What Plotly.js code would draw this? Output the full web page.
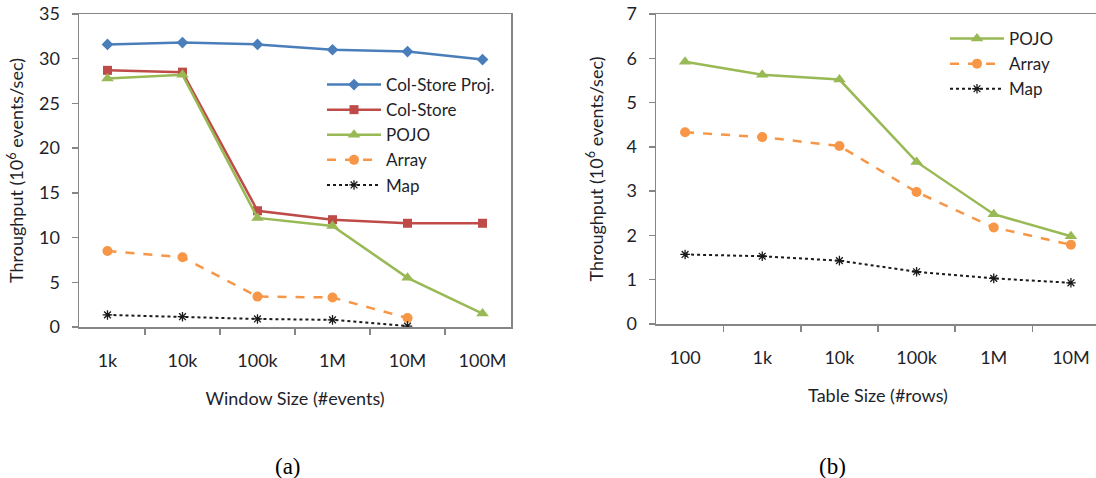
<!DOCTYPE html>
<html><head><meta charset="utf-8">
<script src="https://cdn.plot.ly/plotly-3.0.1.min.js"></script>
<style>html,body{margin:0;padding:0;overflow:hidden;background:#fff}#c{width:1100px;height:478px}</style>
</head><body><div id="c"></div>
<script>
const windowSizes = ["1k","10k","100k","1M","10M","100M"];
const colStoreProj = [31.6, 31.8, 31.6, 31.0, 30.8, 29.9];
const colStore = [28.7, 28.5, 13.0, 12.0, 11.6, 11.6];
const pojoA = [27.8, 28.2, 12.2, 11.3, 5.5, 1.5];
const arrayA = [8.5, 7.8, 3.4, 3.3, 1.0, null];
const mapA = [1.35, 1.15, 0.9, 0.8, 0.1, null];

const tableSizes = ["100","1k","10k","100k","1M","10M"];
const pojoB = [5.92, 5.63, 5.52, 3.66, 2.48, 1.98];
const arrayB = [4.33, 4.22, 4.02, 2.98, 2.18, 1.79];
const mapB = [1.57, 1.53, 1.43, 1.18, 1.03, 0.93];

const W = 1100, H = 478;
const cBlue = "#4A7EBB", cRed = "#BE4B48", cGreen = "#98B954", cOrange = "#F79646", cBlack = "#1a1a1a";
const font = "Lato, 'Open Sans', sans-serif";
const tickColor = "#1f1f2a";
const FS = 18;
const LFS = 17;

function tr(x, y, name, color, dash, symbol, msize, xa, ya, legend) {
  return {
    x: x, y: y, name: name, type: "scatter", mode: "lines+markers",
    xaxis: xa, yaxis: ya, legend: legend,
    line: {color: color, width: dash === "dot" ? 2 : 2.5, dash: dash},
    marker: {symbol: symbol, size: msize, color: color, line: {color: color, width: symbol.indexOf("asterisk") === 0 ? 1.3 : 0}},
    connectgaps: false
  };
}

const traces = [
  tr(windowSizes, colStoreProj, "Col-Store Proj.", cBlue, "solid", "diamond", 9, "x", "y", "legend"),
  tr(windowSizes, colStore, "Col-Store", cRed, "solid", "square", 9, "x", "y", "legend"),
  tr(windowSizes, pojoA, "POJO", cGreen, "solid", "triangle-up", 11, "x", "y", "legend"),
  tr(windowSizes, arrayA, "Array", cOrange, "dash", "circle", 10, "x", "y", "legend"),
  tr(windowSizes, mapA, "Map", cBlack, "dot", "asterisk-open", 8, "x", "y", "legend"),
  tr(tableSizes, pojoB, "POJO", cGreen, "solid", "triangle-up", 11, "x2", "y2", "legend2"),
  tr(tableSizes, arrayB, "Array", cOrange, "dash", "circle", 10, "x2", "y2", "legend2"),
  tr(tableSizes, mapB, "Map", cBlack, "dot", "asterisk-open", 8, "x2", "y2", "legend2")
];

const axisLine = "#868686";
function xaxisCfg(domain, title, anchor) {
  return {
    domain: domain, anchor: anchor, type: "category",
    showline: true, linecolor: axisLine, linewidth: 1.5, mirror: true,
    showgrid: false, zeroline: false,
    ticks: "outside", ticklen: 6, tickcolor: axisLine, tickwidth: 1.5, tickson: "boundaries",
    ticklabelstandoff: 17,
    tickfont: {family: font, size: FS, color: tickColor},
    title: {text: title, font: {family: font, size: FS, color: tickColor}, standoff: 22},
    fixedrange: true
  };
}
function yaxisCfg(domain, range, dtick, anchor, standoff) {
  return {
    domain: domain, anchor: anchor, range: range, dtick: dtick,
    showline: true, linecolor: axisLine, linewidth: 1.5, mirror: true,
    showgrid: false, zeroline: false,
    ticks: "outside", ticklen: 6, tickcolor: axisLine, tickwidth: 1.5,
    ticklabelstandoff: 8,
    tickfont: {family: font, size: FS, color: tickColor},
    title: {text: "Throughput (10<sup>6</sup> events/sec)", font: {family: font, size: FS, color: tickColor}, standoff: standoff},
    fixedrange: true
  };
}

const layout = {
  width: W, height: H,
  margin: {l: 0, r: 0, t: 0, b: 0},
  paper_bgcolor: "#fff", plot_bgcolor: "#fff",
  showlegend: true,
  xaxis: xaxisCfg([79 / W, 511 / W], "Window Size (#events)", "y"),
  yaxis: yaxisCfg([(H - 327) / H, (H - 14) / H], [0, 35], 5, "x", 10),
  xaxis2: xaxisCfg([656 / W, 1], "Table Size (#rows)", "y2"),
  yaxis2: yaxisCfg([(H - 324) / H, (H - 14) / H], [0, 7], 1, "x2", 18),
  legend: {
    x: 322 / W, y: (H - 67) / H, xanchor: "left", yanchor: "top",
    bgcolor: "rgba(255,255,255,0)", font: {family: font, size: LFS, color: tickColor},
    itemwidth: 54, traceorder: "normal"
  },
  legend2: {
    x: 945 / W, y: (H - 21) / H, xanchor: "left", yanchor: "top",
    bgcolor: "rgba(255,255,255,0)", font: {family: font, size: LFS, color: tickColor},
    itemwidth: 54, traceorder: "normal"
  },
  annotations: [
    {text: "(a)", x: 273 / W, y: (H - 466) / H, xref: "paper", yref: "paper", yanchor: "middle", showarrow: false,
     font: {family: "'Liberation Serif', 'Times New Roman', serif", size: 23, color: "#000"}},
    {text: "(b)", x: 848 / W, y: (H - 466) / H, xref: "paper", yref: "paper", yanchor: "middle", showarrow: false,
     font: {family: "'Liberation Serif', 'Times New Roman', serif", size: 23, color: "#000"}}
  ]
};

Plotly.newPlot("c", traces, layout, {staticPlot: true, displayModeBar: false});
</script>
</body></html>
